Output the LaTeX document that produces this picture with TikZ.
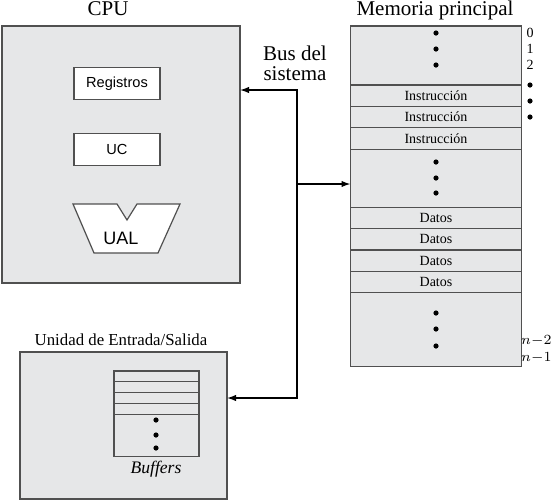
\documentclass[tikz,border=0pt]{standalone}
\usepackage{fontspec}
\setmainfont{Liberation Serif}
\setsansfont{Liberation Sans}
\usepackage{tikz}
\usetikzlibrary{arrows.meta,positioning}
\definecolor{boxgray}{RGB}{230,231,232}
\definecolor{edgegray}{RGB}{80,80,80}

\begin{document}
\begin{tikzpicture}[x=0.5pt,y=-0.5pt,
	unit/.style={draw=edgegray,fill=boxgray,line width=0.6pt,inner sep=0pt,outer sep=0pt},
	inbox/.style={draw=edgegray,fill=white,line width=0.6pt,inner sep=0pt,outer sep=0pt,minimum width=43pt,minimum height=16pt,font=\sffamily\fontsize{7.3}{8}\selectfont},
	memrow/.style={unit,minimum width=85.5pt,minimum height=10.7pt,font=\fontsize{7}{8}\selectfont},
	title/.style={font=\fontsize{10.5}{12}\selectfont,anchor=base},
	dot/.style={circle,fill=black,inner sep=0pt,minimum size=2.6pt},
	addr/.style={font=\fontsize{7}{8}\selectfont,inner sep=0pt},
	bus/.style={line width=0.65pt,{Latex[length=4.5pt,width=3.2pt]}-{Latex[length=4.5pt,width=3.2pt]}}]
	\useasboundingbox (0,0) rectangle (553,500);

	% CPU
	\node[unit,minimum width=119pt,minimum height=128.5pt] (cpu) at (121,154.5) {};
	\node[title] (cputitle) at (108,15) {CPU};
	\node[inbox] (reg) at (117,83.5) {Registros};
	\node[inbox,below=17pt of reg] (uc) {UC};
	\draw[draw=edgegray,fill=white,line width=0.6pt] (73,204) -- (117,204) -- (127,220) -- (137,204) -- (180,204) -- (158,253) -- (94,253) -- cycle;
	\node[font=\sffamily\fontsize{9}{10}\selectfont] (ual) at (121,238) {UAL};

	% memoria
	\node[title] (memtitle) at (435,15) {Memoria principal};
	\node[memrow,minimum height=29.5pt] (memtop) at (436,55.5) {};
	\node[memrow,below=0pt of memtop] (ins1) {Instrucción};
	\node[memrow,below=0pt of ins1] (ins2) {Instrucción};
	\node[memrow,below=0pt of ins2] (ins3) {Instrucción};
	\node[memrow,minimum height=29pt,below=0pt of ins3] (memmid) {};
	\node[memrow,below=0pt of memmid] (dat1) {Datos};
	\node[memrow,below=0pt of dat1] (dat2) {Datos};
	\node[memrow,below=0pt of dat2] (dat3) {Datos};
	\node[memrow,below=0pt of dat3] (dat4) {Datos};
	\node[memrow,minimum height=37pt,below=0pt of dat4] (membot) {};
	\foreach \y in {33,49,65} \node[dot] (topdot\y) at (436,\y) {};
	\foreach \y in {162,178,193} \node[dot] (middot\y) at (436,\y) {};
	\foreach \y in {313,329,346} \node[dot] (botdot\y) at (436,\y) {};

	% direcciones
	\node[addr] (a0) at (530,33) {0};
	\node[addr] (a1) at (530,49) {1};
	\node[addr] (a2) at (530,65) {2};
	\foreach \y in {85,101,117} \node[dot] (adot\y) at (530,\y) {};
	\node[addr,anchor=east] (an2) at (552,341) {$n{-}2$};
	\node[addr,anchor=east] (an1) at (552,358) {$n{-}1$};

	% E/S
	\node[title,font=\fontsize{8.4}{10}\selectfont] (iotitle) at (121,345) {Unidad de Entrada/Salida};
	\node[unit,minimum width=103.5pt,minimum height=73.5pt] (io) at (123.5,425.5) {};
	\node[memrow,minimum width=42.5pt,minimum height=5.4pt] (buf1) at (156.5,376.4) {};
	\node[memrow,minimum width=42.5pt,minimum height=5.4pt,below=0pt of buf1] (buf2) {};
	\node[memrow,minimum width=42.5pt,minimum height=5.4pt,below=0pt of buf2] (buf3) {};
	\node[memrow,minimum width=42.5pt,minimum height=5.4pt,below=0pt of buf3] (buf4) {};
	\node[memrow,minimum width=42.5pt,minimum height=21pt,below=0pt of buf4] (bufbot) {};
	\foreach \y in {420,435,448} \node[dot] (bdot\y) at (156,\y) {};
	\node[font=\itshape\fontsize{8.8}{10}\selectfont,anchor=base] (buflabel) at (156,473) {Buffers};

	% bus
	\node[font=\fontsize{10.5}{10}\selectfont,align=center] (busname) at (295,63) {Bus del\\sistema};
	\coordinate (busT) at (297,90);
	\coordinate (busM) at (297,184);
	\coordinate (busB) at (297,398);
	\draw[bus] (cpu.east|-busT) -- (busT) -- (busB) -- (io.east|-busB);
	\draw[line width=0.65pt,-{Latex[length=4.5pt,width=3.2pt]}] (busM) -- (memmid.west|-busM);
\end{tikzpicture}
\end{document}
